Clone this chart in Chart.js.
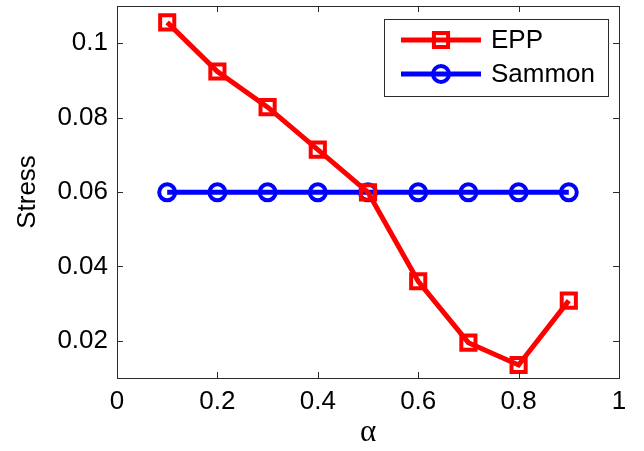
<!DOCTYPE html>
<html>
<head>
<meta charset="utf-8">
<script src="https://cdn.jsdelivr.net/npm/chart.js@4/dist/chart.umd.min.js"></script>
<style>
  html, body { margin: 0; padding: 0; background: #fff; }
  #wrap { width: 644px; height: 451px; }
</style>
</head>
<body>
<div id="wrap"><canvas id="stressChart" width="644" height="451"></canvas></div>
<script>
// alpha values and stress for both methods
const alphas = [0.1, 0.2, 0.3, 0.4, 0.5, 0.6, 0.7, 0.8, 0.9];
const eppStress = [0.1056, 0.0924, 0.0828, 0.0714, 0.0599, 0.0360, 0.0195, 0.0135, 0.0308];
const sammonStress = [0.0599, 0.0599, 0.0599, 0.0599, 0.0599, 0.0599, 0.0599, 0.0599, 0.0599];
const xTicks = [0, 0.2, 0.4, 0.6, 0.8, 1];
const yTicks = [0.02, 0.04, 0.06, 0.08, 0.1];

const axisColor = '#2b2b2b';
const sansFont = '"Liberation Sans", Arial, Helvetica, sans-serif';

function toPoints(ys) {
  return alphas.map((a, i) => ({ x: a, y: ys[i] }));
}

// box around the plot + inward ticks on all four sides
const boxAndTicks = {
  id: 'boxAndTicks',
  afterDatasetsDraw(chart) {
    const { ctx, chartArea: a, scales } = chart;
    const len = 6;
    ctx.save();
    ctx.strokeStyle = axisColor;
    ctx.lineWidth = 1;
    ctx.strokeRect(a.left + 0.5, a.top + 0.5, a.right - a.left, a.bottom - a.top);
    ctx.beginPath();
    xTicks.forEach(v => {
      const px = Math.round(scales.x.getPixelForValue(v)) + 0.5;
      ctx.moveTo(px, a.bottom); ctx.lineTo(px, a.bottom - len);
      ctx.moveTo(px, a.top); ctx.lineTo(px, a.top + len);
    });
    yTicks.forEach(v => {
      const py = Math.round(scales.y.getPixelForValue(v)) + 0.5;
      ctx.moveTo(a.left, py); ctx.lineTo(a.left + len, py);
      ctx.moveTo(a.right, py); ctx.lineTo(a.right - len, py);
    });
    ctx.stroke();
    ctx.restore();
  }
};

// matlab-style legend: line sample with marker, boxed
const lineLegend = {
  id: 'lineLegend',
  afterDraw(chart) {
    const { ctx } = chart;
    const bx = 384, by = 19, bw = 224, bh = 77;
    ctx.save();
    ctx.fillStyle = '#fff';
    ctx.fillRect(bx, by, bw, bh);
    ctx.strokeStyle = axisColor;
    ctx.lineWidth = 1;
    ctx.strokeRect(bx + 0.5, by + 0.5, bw, bh);
    chart.data.datasets.forEach((ds, i) => {
      const cy = by + 21 + i * 34;
      ctx.strokeStyle = ds.borderColor;
      ctx.lineWidth = ds.borderWidth;
      ctx.beginPath();
      ctx.moveTo(401, cy); ctx.lineTo(481, cy);
      ctx.stroke();
      ctx.fillStyle = 'rgba(0,0,0,0)';
      ctx.lineWidth = ds.pointBorderWidth;
      Chart.helpers.drawPoint(ctx, {
        pointStyle: ds.pointStyle,
        radius: ds.pointRadius,
        borderWidth: ds.pointBorderWidth
      }, 441, cy);
      ctx.fillStyle = '#000';
      ctx.font = '26px ' + sansFont;
      ctx.textBaseline = 'middle';
      ctx.fillText(ds.label, 491, cy + 1);
    });
    ctx.restore();
  }
};

new Chart(document.getElementById('stressChart'), {
  type: 'line',
  data: {
    datasets: [{
      label: 'EPP',
      data: toPoints(eppStress),
      borderColor: '#ff0000',
      backgroundColor: 'transparent',
      borderWidth: 5,
      pointStyle: 'rect',
      pointRadius: 10,
      pointBorderWidth: 4,
      pointBorderColor: '#ff0000',
      pointBackgroundColor: 'transparent',
      tension: 0
    }, {
      label: 'Sammon',
      data: toPoints(sammonStress),
      borderColor: '#0000ff',
      backgroundColor: 'transparent',
      borderWidth: 5,
      pointStyle: 'circle',
      pointRadius: 8,
      pointBorderWidth: 4,
      pointBorderColor: '#0000ff',
      pointBackgroundColor: 'transparent',
      tension: 0
    }]
  },
  options: {
    responsive: false,
    animation: false,
    clip: false,
    layout: { autoPadding: false, padding: { top: 6, right: 25, left: 0, bottom: 0 } },
    plugins: { legend: { display: false }, tooltip: { enabled: false } },
    scales: {
      x: {
        type: 'linear',
        min: 0,
        max: 1,
        afterBuildTicks: s => { s.ticks = xTicks.map(v => ({ value: v })); },
        afterFit: s => { s.height = 73; s.paddingLeft = 0; s.paddingRight = 0; },
        grid: { display: false, drawTicks: false },
        border: { display: false },
        ticks: {
          color: '#000',
          padding: 8,
          font: { family: sansFont, size: 26 },
          callback: v => String(+v.toFixed(2))
        },
        title: {
          display: true,
          text: 'α',
          color: '#000',
          font: { family: '"Liberation Serif", "Times New Roman", serif', size: 31 },
          padding: { top: 0, bottom: 0 }
        }
      },
      y: {
        min: 0.01,
        max: 0.11,
        afterBuildTicks: s => { s.ticks = yTicks.map(v => ({ value: v })); },
        afterFit: s => { s.width = 117; s.paddingTop = 0; s.paddingBottom = 0; },
        grid: { display: false, drawTicks: false },
        border: { display: false },
        ticks: {
          color: '#000',
          padding: 9,
          font: { family: sansFont, size: 26 },
          callback: v => String(+v.toFixed(2))
        },
        title: {
          display: true,
          text: 'Stress',
          color: '#000',
          font: { family: sansFont, size: 26 },
          padding: { top: 12, bottom: 0 }
        }
      }
    }
  },
  plugins: [boxAndTicks, lineLegend]
});
</script>
</body>
</html>
